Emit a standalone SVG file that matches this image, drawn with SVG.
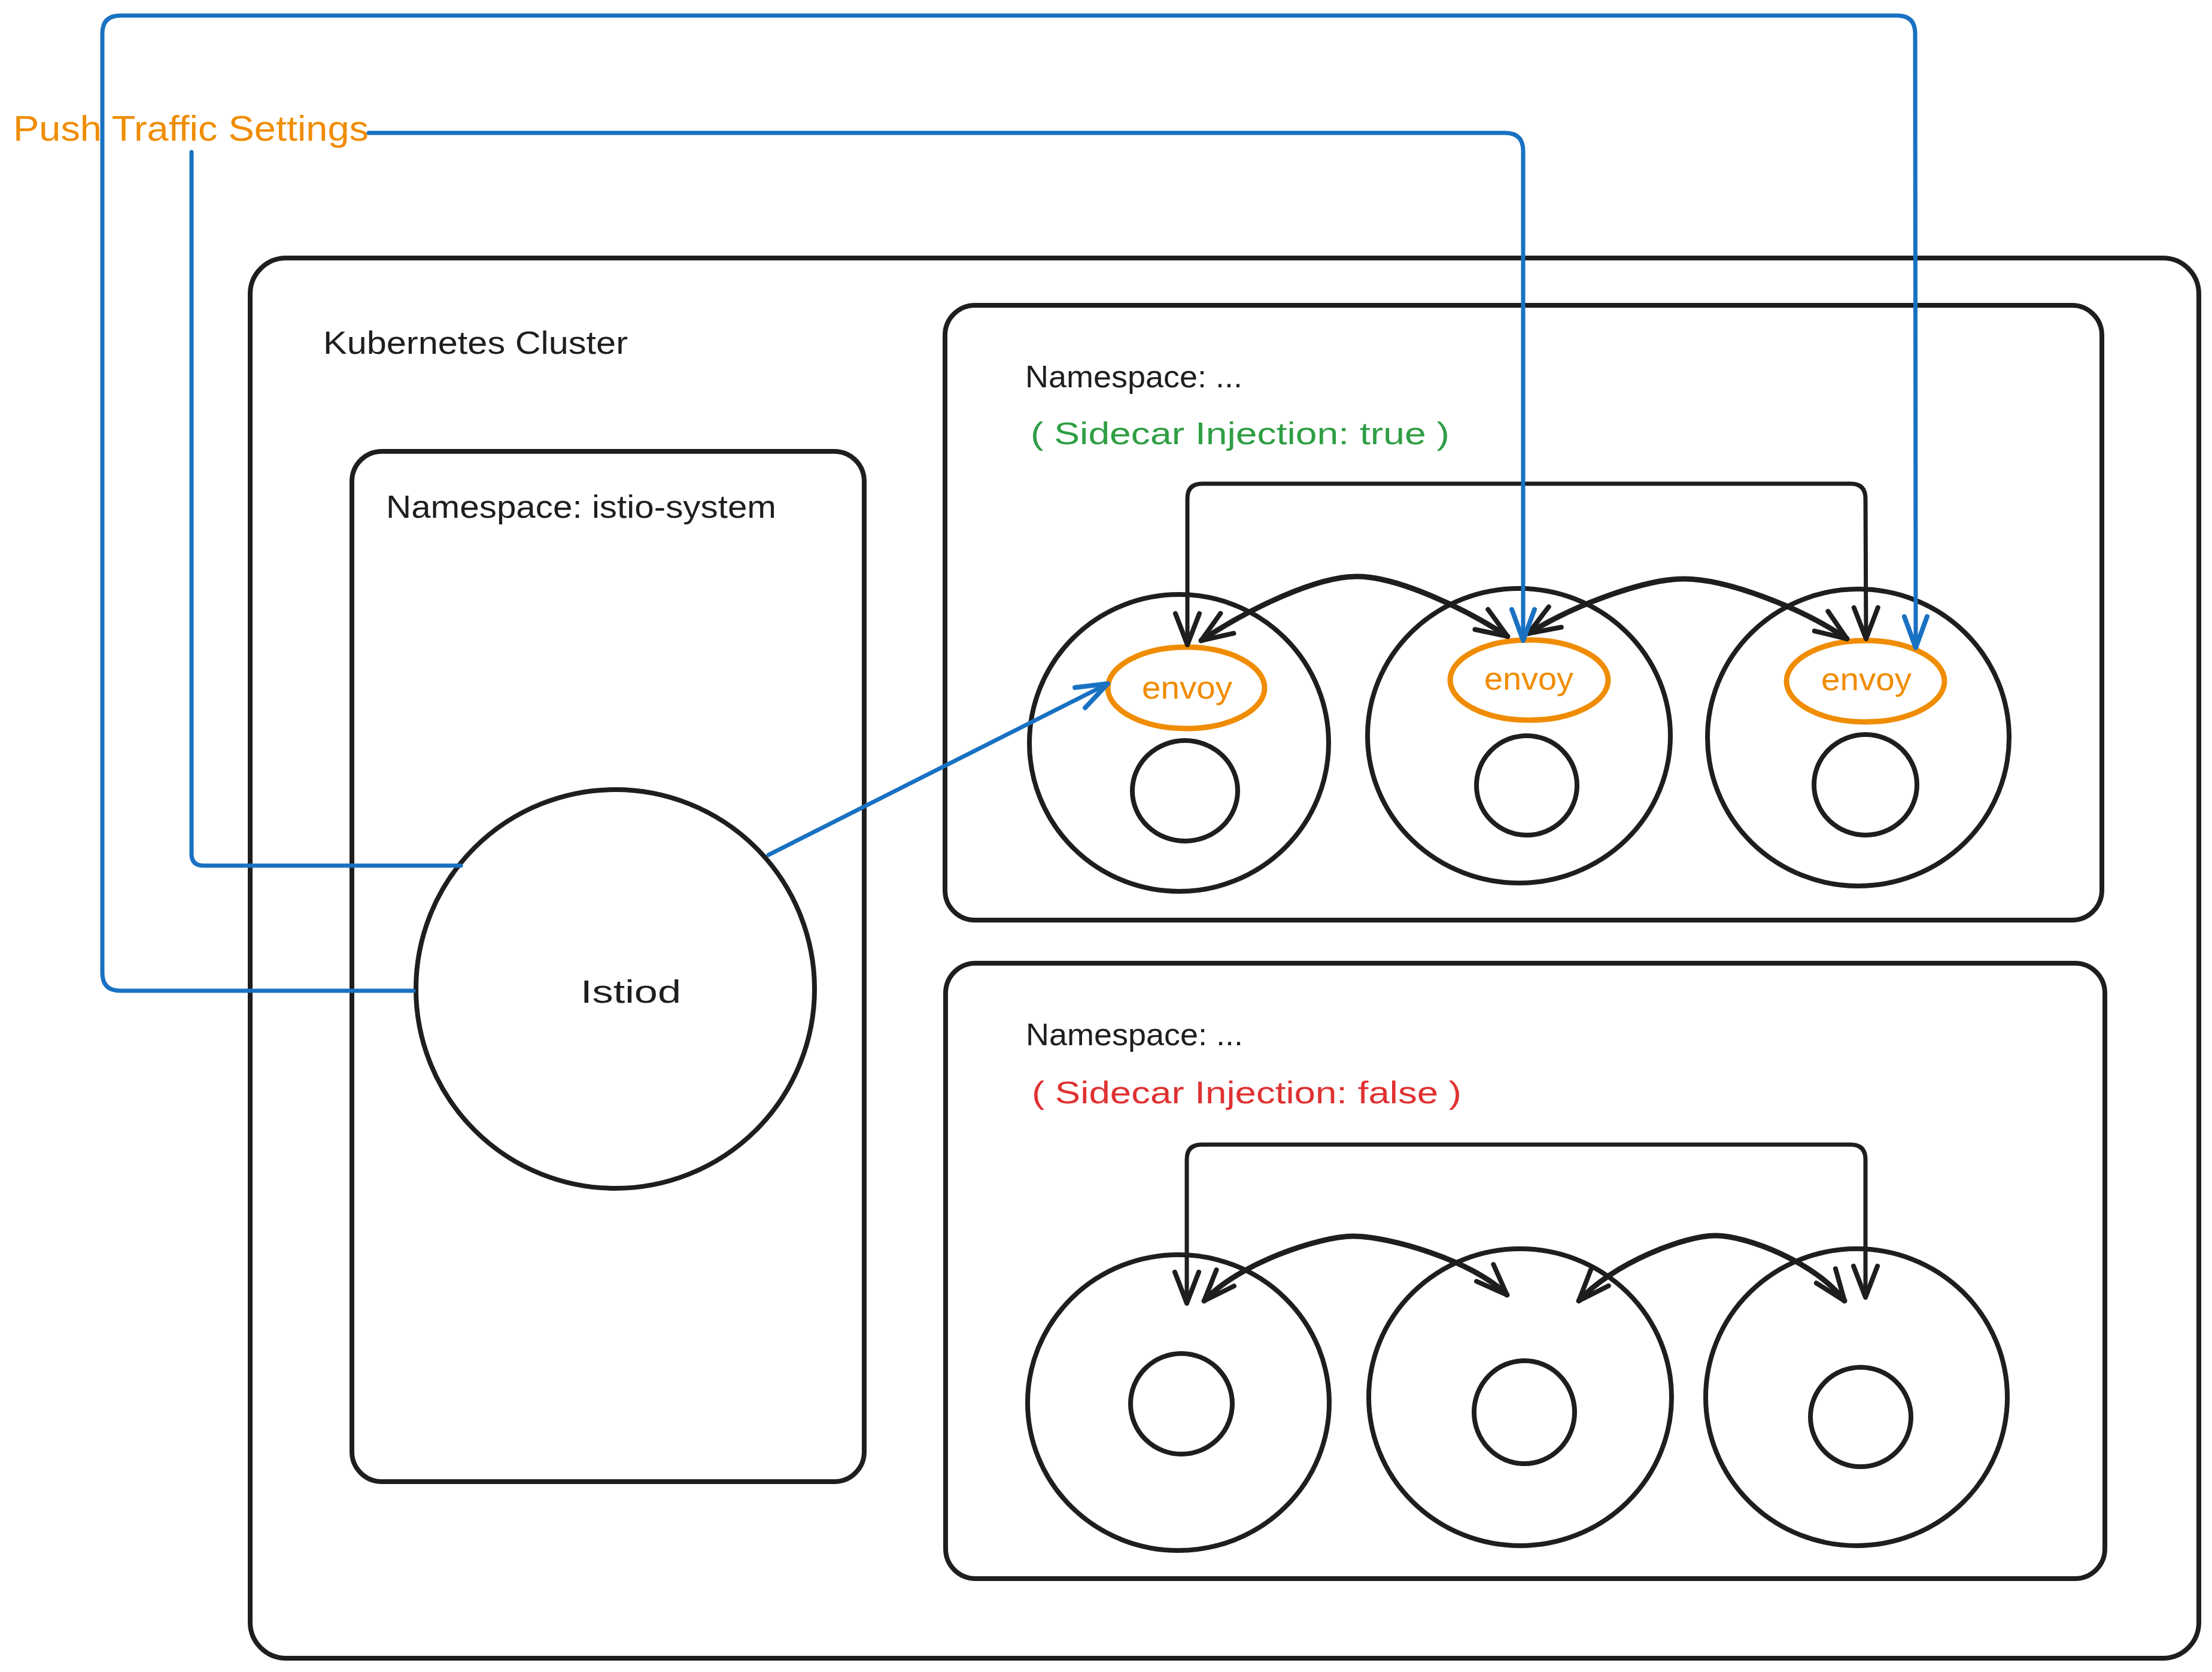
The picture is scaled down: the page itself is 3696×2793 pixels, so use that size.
<svg xmlns="http://www.w3.org/2000/svg" width="3696" height="2793" viewBox="0 0 3696 2793">
  <style>
    .box { fill: none; stroke: #1e1e1e; stroke-width: 8; stroke-linejoin: round; }
    .pod { fill: none; stroke: #1e1e1e; stroke-width: 8; }
    .envoy { fill: none; stroke: #f08c00; stroke-width: 9; }
    .blk { fill: none; stroke: #1e1e1e; stroke-width: 7; stroke-linecap: round; stroke-linejoin: round; }
    .curve { fill: none; stroke: #1e1e1e; stroke-width: 9; stroke-linecap: round; }
    .blue { fill: none; stroke: #1971c2; stroke-width: 7; stroke-linecap: round; stroke-linejoin: round; }
    text { font-family: "Liberation Sans", "Noto Sans", sans-serif; }
    .lbl { font-size: 54px; fill: #1e1e1e; }
    .ns { font-size: 52px; fill: #1e1e1e; }
    .green { font-size: 52px; fill: #2f9e44; }
    .red { font-size: 52px; fill: #e03131; }
    .env { font-size: 54px; fill: #f08c00; }
    .push { font-size: 60px; fill: #f08c00; }
  </style>
  <defs>
    <marker id="ahk" markerUnits="userSpaceOnUse" orient="auto-start-reverse" overflow="visible" refX="0" refY="0" markerWidth="1" markerHeight="1">
      <path d="M -52 -20 L 0 0 L -52 20" fill="none" stroke="#1e1e1e" stroke-width="8" stroke-linecap="round" stroke-linejoin="round"/>
    </marker>
    <marker id="ahb" markerUnits="userSpaceOnUse" orient="auto-start-reverse" overflow="visible" refX="0" refY="0" markerWidth="1" markerHeight="1">
      <path d="M -52 -19 L 0 0 L -52 19" fill="none" stroke="#1971c2" stroke-width="8" stroke-linecap="round" stroke-linejoin="round"/>
    </marker>
  </defs>
  <rect width="3696" height="2793" fill="#ffffff"/>

  <g id="kubernetes-cluster">
    <rect class="box" x="418" y="431" width="3256" height="2339" rx="60"/>
    <text class="lbl" x="540" y="591" textLength="509" lengthAdjust="spacingAndGlyphs">Kubernetes Cluster</text>
  </g>

  <g id="ns-istio-system">
    <rect class="box" x="588" y="754" width="856" height="1721" rx="50"/>
    <text class="lbl" x="645" y="865" textLength="652" lengthAdjust="spacingAndGlyphs">Namespace: istio-system</text>
  </g>

  <g id="istiod">
    <ellipse class="pod" cx="1028" cy="1652" rx="333" ry="333"/>
    <text class="lbl" x="970" y="1675" textLength="168" lengthAdjust="spacingAndGlyphs">Istiod</text>
  </g>

  <g id="ns-injection-true">
    <rect class="box" x="1579" y="510" width="1933" height="1027" rx="50"/>
    <text class="ns" x="1713" y="647" textLength="363" lengthAdjust="spacingAndGlyphs">Namespace: ...</text>
    <text class="green" x="1722" y="742" textLength="700" lengthAdjust="spacingAndGlyphs">( Sidecar Injection: true )</text>
  </g>

  <g id="pod-t1">
    <ellipse class="pod" cx="1970" cy="1241" rx="250" ry="248"/>
    <ellipse class="pod" cx="1980" cy="1321" rx="88" ry="84"/>
  </g>
  <g id="envoy-t1">
    <ellipse class="envoy" cx="1982" cy="1149" rx="131" ry="68"/>
    <text class="env" x="1908" y="1167" textLength="151" lengthAdjust="spacingAndGlyphs">envoy</text>
  </g>
  <g id="pod-t2">
    <ellipse class="pod" cx="2538" cy="1229" rx="253" ry="246"/>
    <ellipse class="pod" cx="2551" cy="1312" rx="84" ry="83"/>
  </g>
  <g id="envoy-t2">
    <ellipse class="envoy" cx="2555" cy="1136" rx="132" ry="67"/>
    <text class="env" x="2480" y="1152" textLength="149" lengthAdjust="spacingAndGlyphs">envoy</text>
  </g>
  <g id="pod-t3">
    <ellipse class="pod" cx="3105" cy="1232" rx="252" ry="248"/>
    <ellipse class="pod" cx="3117" cy="1311" rx="86" ry="84"/>
  </g>
  <g id="envoy-t3">
    <ellipse class="envoy" cx="3117" cy="1138" rx="132" ry="68"/>
    <text class="env" x="3043" y="1153" textLength="151" lengthAdjust="spacingAndGlyphs">envoy</text>
  </g>

  <g id="ns-injection-false">
    <rect class="box" x="1580" y="1609" width="1937" height="1028" rx="50"/>
    <text class="ns" x="1714" y="1746" textLength="363" lengthAdjust="spacingAndGlyphs">Namespace: ...</text>
    <text class="red" x="1724" y="1843" textLength="718" lengthAdjust="spacingAndGlyphs">( Sidecar Injection: false )</text>
  </g>

  <g id="pod-f1">
    <ellipse class="pod" cx="1969" cy="2343" rx="252" ry="247"/>
    <ellipse class="pod" cx="1974" cy="2345" rx="85" ry="84"/>
  </g>
  <g id="pod-f2">
    <ellipse class="pod" cx="2540" cy="2334" rx="253" ry="248"/>
    <ellipse class="pod" cx="2547" cy="2359" rx="84" ry="86"/>
  </g>
  <g id="pod-f3">
    <ellipse class="pod" cx="3102" cy="2334" rx="252" ry="248"/>
    <ellipse class="pod" cx="3109" cy="2367" rx="84" ry="83"/>
  </g>

  <g id="push-label">
    <text class="push" x="22" y="235" textLength="594" lengthAdjust="spacingAndGlyphs">Push Traffic Settings</text>
  </g>

  <g id="connectors">
    <!-- black connectors, injected namespace -->
    <path class="blk" d="M 1984 1077 L 1984 833 Q 1984 808 2009 808 L 3092 808 Q 3117 808 3117 833 L 3118 1067" marker-start="url(#ahk)" marker-end="url(#ahk)"/>
    <path class="curve" d="M 2007 1070 C 2090 1015 2200 963 2267 963 C 2335 963 2445 1015 2519 1063" marker-start="url(#ahk)" marker-end="url(#ahk)"/>
    <path class="curve" d="M 2554 1058 C 2635 1008 2750 967 2814 967 C 2885 967 3010 1015 3086 1067" marker-start="url(#ahk)" marker-end="url(#ahk)"/>
    <!-- black connectors, non-injected namespace -->
    <path class="blk" d="M 1983 2177 L 1983 1937 Q 1983 1912 2008 1912 L 3092 1912 Q 3117 1912 3117 1937 L 3117 2167" marker-start="url(#ahk)" marker-end="url(#ahk)"/>
    <path class="curve" d="M 2012 2173 C 2070 2110 2205 2065 2261 2065 C 2320 2065 2460 2105 2518 2163" marker-start="url(#ahk)" marker-end="url(#ahk)"/>
    <path class="curve" d="M 2638 2173 C 2695 2110 2815 2064 2866 2064 C 2920 2064 3035 2110 3082 2173" marker-start="url(#ahk)" marker-end="url(#ahk)"/>
    <!-- blue push connectors -->
    <path class="blue" d="M 1284 1428 L 1851 1142" marker-end="url(#ahb)"/>
    <path class="blue" d="M 616 222 L 2515 222 Q 2545 222 2545 252 L 2545 1070" marker-end="url(#ahb)"/>
    <path class="blue" d="M 770 1446 L 340 1446 Q 320 1446 320 1426 L 320 254"/>
    <path class="blue" d="M 691 1655 L 201 1655 Q 171 1655 171 1625 L 171 56 Q 171 26 201 26 L 3170 26 Q 3200 26 3200 56 L 3201 1082" marker-end="url(#ahb)"/>
  </g>
</svg>
